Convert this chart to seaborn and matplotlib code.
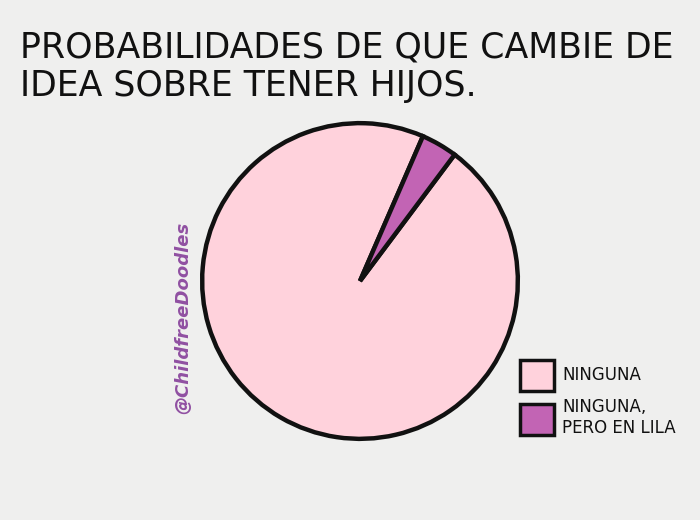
import matplotlib
matplotlib.use("Agg")
import matplotlib.pyplot as plt
import seaborn as sns

sns.set_theme(style="white")
plt.rcParams['font.family'] = ['DejaVu Sans']

# Data
categories = ["NINGUNA", "NINGUNA,\nPERO EN LILA"]
values = [96.3, 3.7]
colors = ["#FFD2DC", "#C264B4"]

title_lines = "PROBABILIDADES DE QUE CAMBIE DE\nIDEA SOBRE TENER HIJOS."
watermark = "@ChildfreeDoodles"

bg = "#EFEFEE"
fig = plt.figure(figsize=(7, 5.2), dpi=100, facecolor=bg)

ax = fig.add_axes([199/700, 1-442/520, 322/700, 322/520])
ax.set_facecolor(bg)
wedges, _ = ax.pie(values, colors=colors, startangle=66.5, counterclock=True,
                   wedgeprops=dict(edgecolor="#111111", linewidth=3.2))
ax.set_xlim(-1.02, 1.02)
ax.set_ylim(-1.02, 1.02)
ax.set_aspect("equal")
ax.axis("off")

fig.text(20/700, 1-30/520, title_lines, ha="left", va="top", fontsize=25,
         color="#111111", linespacing=1.18)

fig.text(183/700, 1-318/520, watermark, rotation=90, ha="center", va="center",
         fontsize=13, color="#9050A2", fontstyle="italic", fontweight="bold")

leg = fig.legend(wedges, categories, loc="upper left",
                 bbox_to_anchor=(520/700, 1-360/520), frameon=False,
                 borderpad=0, borderaxespad=0,
                 fontsize=12, handlelength=2.05, handleheight=2.45,
                 handletextpad=0.5, labelspacing=0.45, labelcolor="#111111")
for h in leg.legend_handles:
    h.set_linewidth(2.5)
    h.set_edgecolor("#111111")

fig.savefig("out.png", dpi=100, facecolor=bg)
